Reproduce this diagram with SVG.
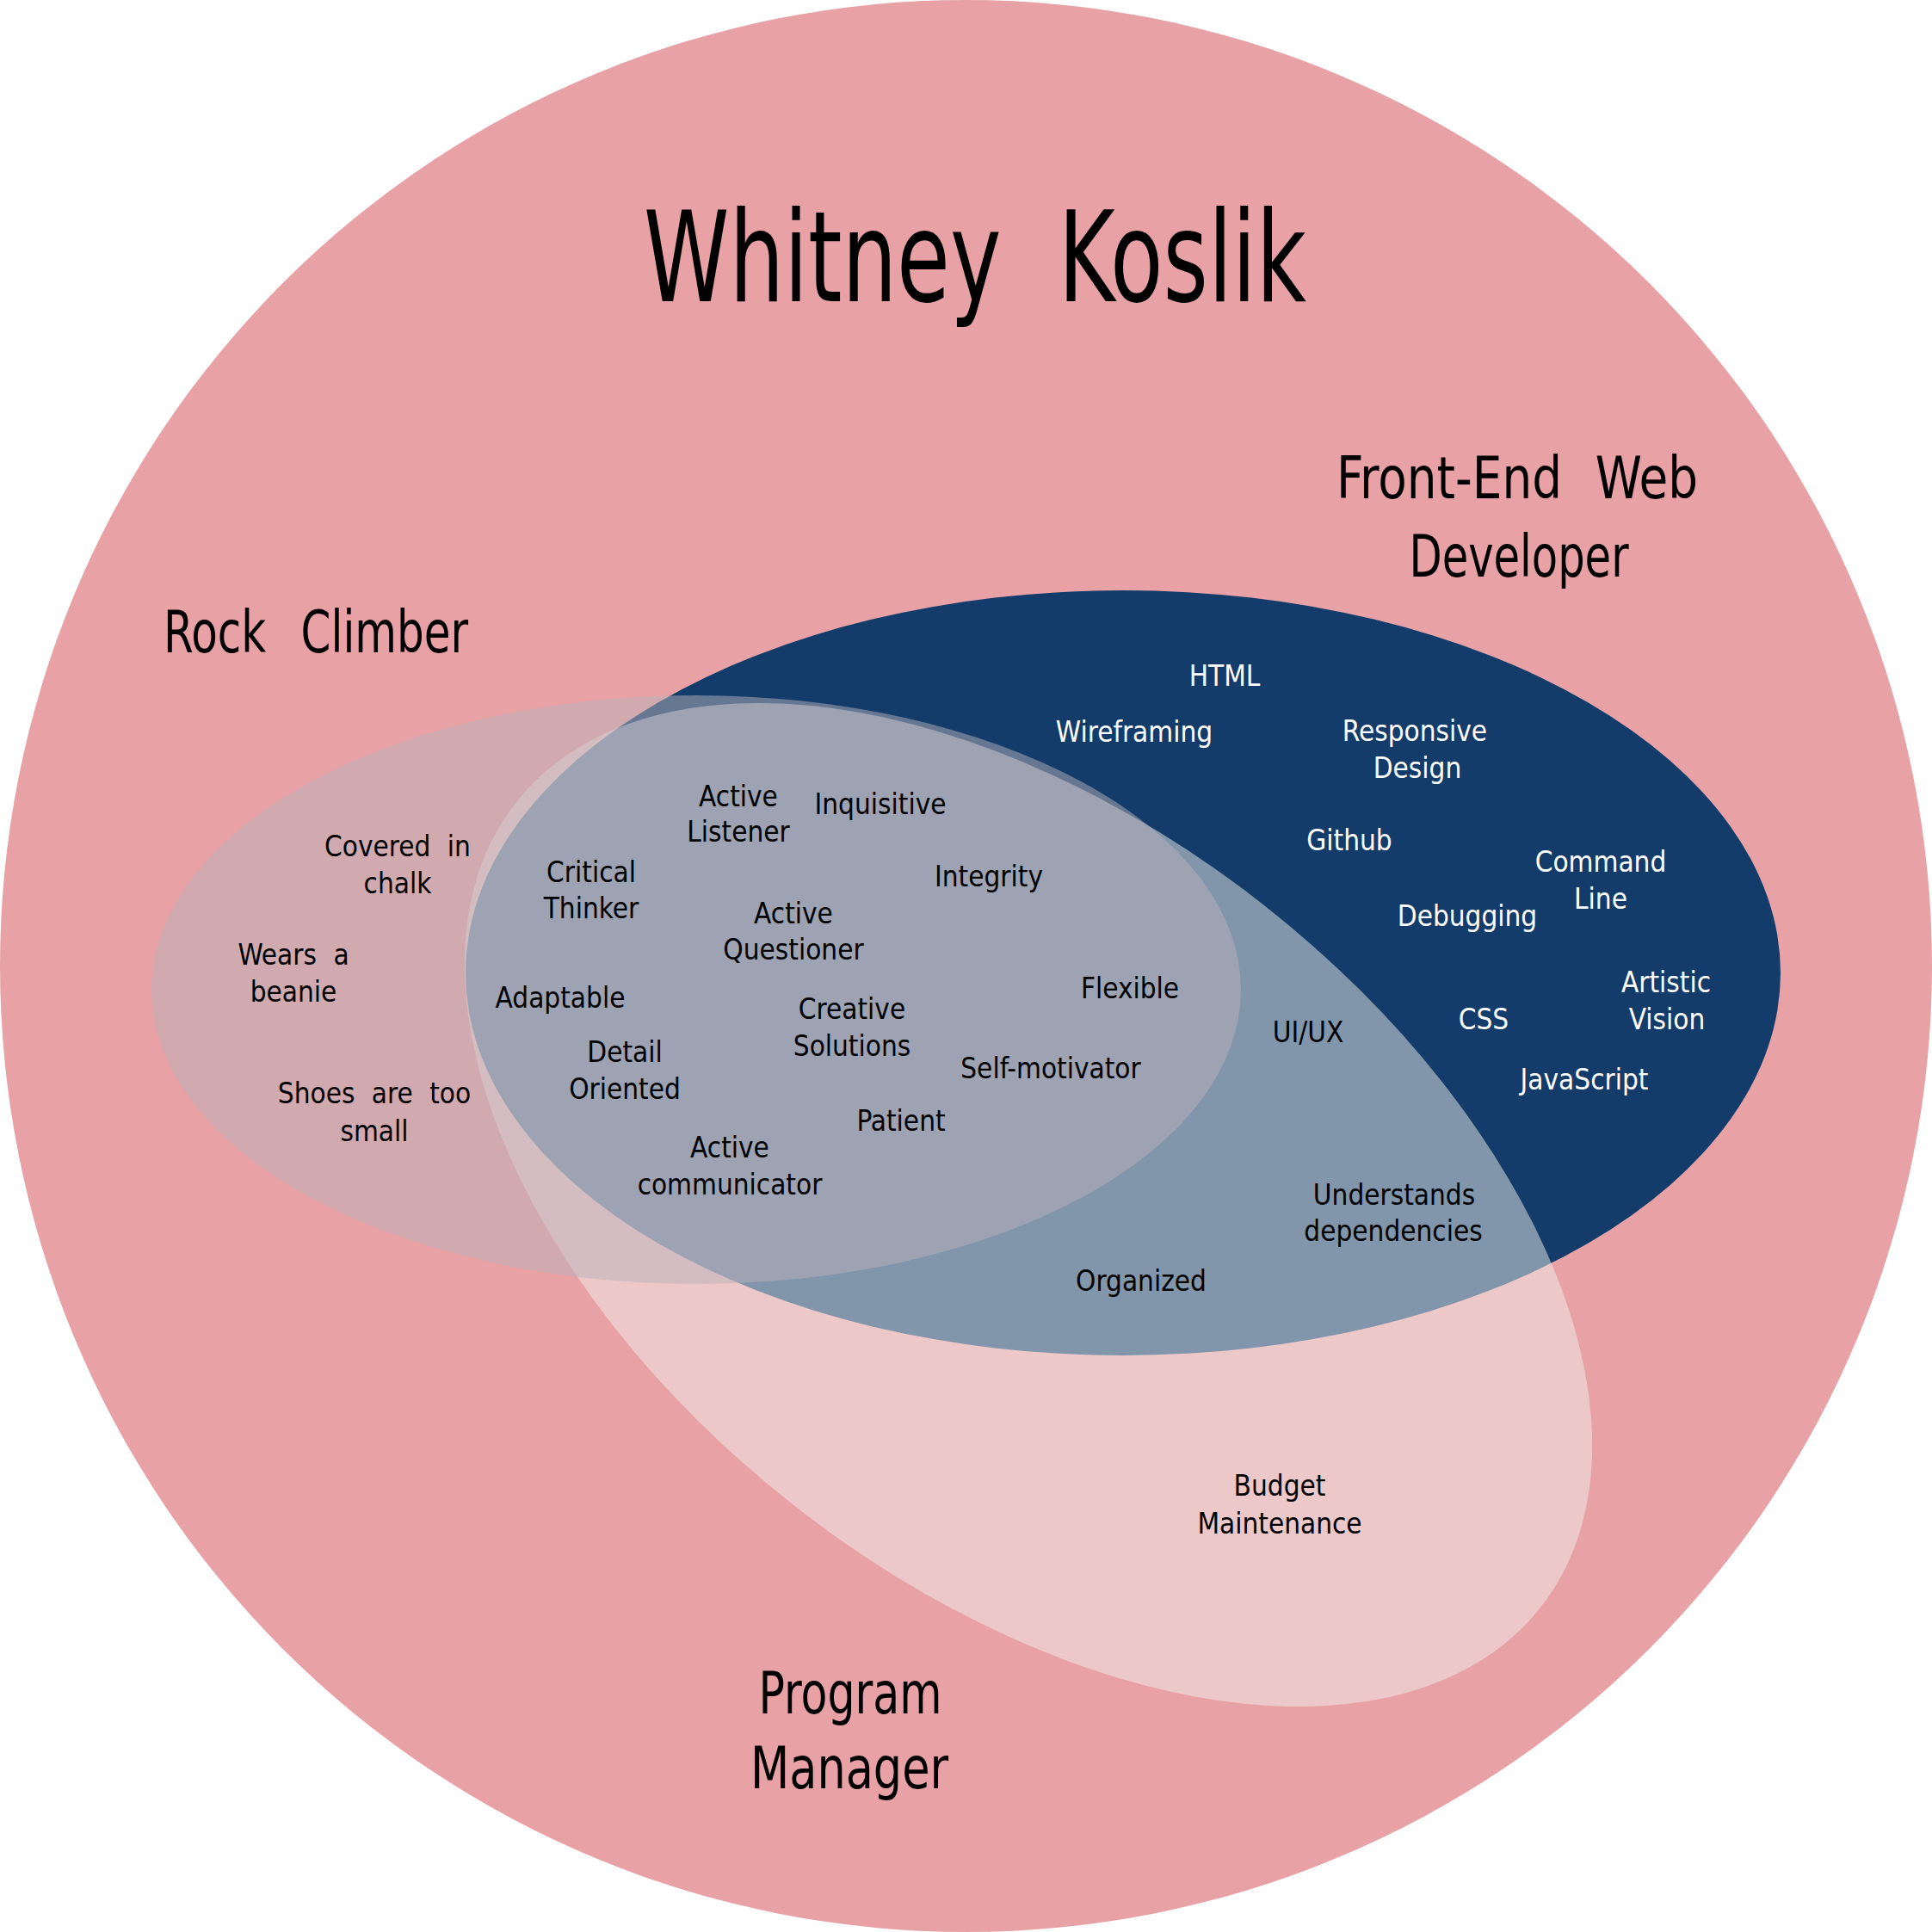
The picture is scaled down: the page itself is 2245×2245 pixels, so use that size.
<svg xmlns="http://www.w3.org/2000/svg" width="2245" height="2245" viewBox="0 0 2245 2245">
<style>
.t{font-family:"DejaVu Sans Condensed","DejaVu Sans",sans-serif;font-stretch:condensed;text-anchor:middle;fill:#000}
.item{font-size:33px}
.ws{word-spacing:10px}
.w{fill:#ffffff}
.set{font-size:68px}
.title{font-size:146px}
</style>
<rect width="2245" height="2245" fill="#ffffff"/>
<g id="whitney-koslik">
<circle cx="1122.5" cy="1122.5" r="1122.5" fill="#E8A2A6"/>
<text class="t title" x="1133" y="350" word-spacing="45" textLength="770" lengthAdjust="spacingAndGlyphs">Whitney Koslik</text>
</g>
<g id="front-end-web-developer">
<ellipse cx="1305" cy="1130.5" rx="764" ry="444.5" fill="#133C6A"/>
<text class="t set" x="1763" y="579" word-spacing="24" textLength="420" lengthAdjust="spacingAndGlyphs">Front-End Web</text>
<text class="t set" x="1765" y="670" textLength="255" lengthAdjust="spacingAndGlyphs">Developer</text>
</g>
<g id="program-manager">
<ellipse cx="1195" cy="1400" rx="757" ry="443" transform="rotate(38.15 1195 1400)" fill="#F0EDEB" fill-opacity="0.5"/>
<text class="t set" x="988" y="1991" textLength="213" lengthAdjust="spacingAndGlyphs">Program</text>
<text class="t set" x="987" y="2078" textLength="230" lengthAdjust="spacingAndGlyphs">Manager</text>
</g>
<g id="rock-climber">
<ellipse cx="809" cy="1150" rx="633" ry="342" fill="#B9B2B9" fill-opacity="0.5"/>
<text class="t set" x="367" y="758" word-spacing="30" textLength="354" lengthAdjust="spacingAndGlyphs">Rock Climber</text>
</g>
<g id="items">
<g id="item-covered"><text class="t item ws" x="462" y="995">Covered in</text><text class="t item" x="462" y="1038">chalk</text></g>
<g id="item-beanie"><text class="t item ws" x="341" y="1121">Wears a</text><text class="t item" x="341" y="1164">beanie</text></g>
<g id="item-shoes"><text class="t item ws" x="435" y="1282">Shoes are too</text><text class="t item" x="435" y="1326">small</text></g>
<g id="item-critical"><text class="t item" x="687" y="1025">Critical</text><text class="t item" x="687" y="1067">Thinker</text></g>
<g id="item-listener"><text class="t item" x="858" y="937">Active</text><text class="t item" x="858" y="978">Listener</text></g>
<g id="item-inquisitive"><text class="t item" x="1023" y="946">Inquisitive</text></g>
<g id="item-integrity"><text class="t item" x="1149" y="1030">Integrity</text></g>
<g id="item-questioner"><text class="t item" x="922" y="1073">Active</text><text class="t item" x="922" y="1115">Questioner</text></g>
<g id="item-flexible"><text class="t item" x="1313" y="1160">Flexible</text></g>
<g id="item-adaptable"><text class="t item" x="651" y="1171">Adaptable</text></g>
<g id="item-creative"><text class="t item" x="990" y="1184">Creative</text><text class="t item" x="990" y="1227">Solutions</text></g>
<g id="item-detail"><text class="t item" x="726" y="1234">Detail</text><text class="t item" x="726" y="1277">Oriented</text></g>
<g id="item-self"><text class="t item" x="1221" y="1253">Self-motivator</text></g>
<g id="item-patient"><text class="t item" x="1047" y="1314">Patient</text></g>
<g id="item-communicator"><text class="t item" x="848" y="1345">Active</text><text class="t item" x="848" y="1388">communicator</text></g>
<g id="item-html"><text class="t item w" x="1423" y="797">HTML</text></g>
<g id="item-wireframing"><text class="t item w" x="1318" y="862">Wireframing</text></g>
<g id="item-responsive"><text class="t item w" x="1644" y="861">Responsive</text><text class="t item w" x="1647" y="904">Design</text></g>
<g id="item-github"><text class="t item w" x="1568" y="988">Github</text></g>
<g id="item-command"><text class="t item w" x="1860" y="1013">Command</text><text class="t item w" x="1860" y="1056">Line</text></g>
<g id="item-debugging"><text class="t item w" x="1705" y="1076">Debugging</text></g>
<g id="item-artistic"><text class="t item w" x="1936" y="1153">Artistic</text><text class="t item w" x="1937" y="1196">Vision</text></g>
<g id="item-css"><text class="t item w" x="1724" y="1196">CSS</text></g>
<g id="item-uiux"><text class="t item" x="1520" y="1211">UI/UX</text></g>
<g id="item-javascript"><text class="t item w" x="1841" y="1266">JavaScript</text></g>
<g id="item-dependencies"><text class="t item" x="1620" y="1400">Understands</text><text class="t item" x="1619" y="1442">dependencies</text></g>
<g id="item-organized"><text class="t item" x="1326" y="1500">Organized</text></g>
<g id="item-budget"><text class="t item" x="1487" y="1738">Budget</text><text class="t item" x="1487" y="1782">Maintenance</text></g>
</g>
</svg>
